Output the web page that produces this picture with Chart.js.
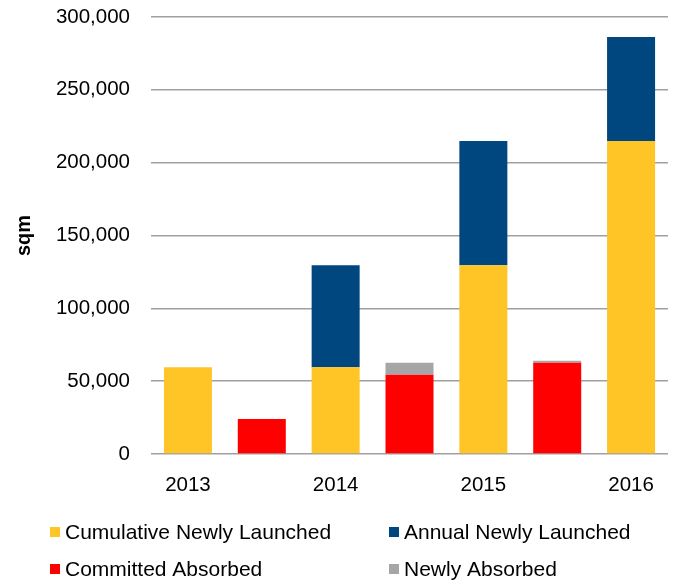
<!DOCTYPE html>
<html>
<head>
<meta charset="utf-8">
<script src="https://cdn.jsdelivr.net/npm/chart.js@4/dist/chart.umd.min.js"></script>
<style>
  html, body { margin: 0; padding: 0; background: #fff; }
  #wrap { width: 676px; height: 582px; position: relative; }
</style>
</head>
<body>
<div id="wrap"><canvas id="chart"></canvas></div>
<script>
// Bar slots: each year followed by the absorption bar between years
const categories = ['2013', '', '2014', '', '2015', '', '2016'];
const cumulativeNewlyLaunched = [59500, null, 59500, null, 129500, null, 214800];
const annualNewlyLaunched     = [null, null, 70000, null, 85300, null, 71400];
const committedAbsorbed       = [null, 24000, null, 54400, null, 62700, null];
const newlyAbsorbed           = [null, null, null, 8300, null, 1300, null];
const yTickValues = [0, 50000, 100000, 150000, 200000, 250000, 300000];

const FONT = '"Liberation Sans", Arial, sans-serif';

// Two-column legend laid out beneath the plot
const gridLegend = {
  id: 'gridLegend',
  afterDraw(chart) {
    const ctx = chart.ctx;
    const cols = [50, 389];
    const rows = [532, 569];
    chart.data.datasets.forEach((ds, i) => {
      const x = cols[i % 2];
      const y = rows[Math.floor(i / 2)];
      ctx.save();
      ctx.fillStyle = ds.backgroundColor;
      ctx.fillRect(x, y - 5, 10, 10);
      ctx.fillStyle = '#000';
      ctx.font = '21px ' + FONT;
      ctx.textBaseline = 'middle';
      ctx.textAlign = 'left';
      ctx.fillText(ds.label, x + 15, y + 1);
      ctx.restore();
    });
  }
};

new Chart(document.getElementById('chart'), {
  type: 'bar',
  data: {
    labels: categories,
    datasets: [
      { label: 'Cumulative Newly Launched', data: cumulativeNewlyLaunched, backgroundColor: '#FFC425' },
      { label: 'Annual Newly Launched',     data: annualNewlyLaunched,     backgroundColor: '#00467F' },
      { label: 'Committed Absorbed',        data: committedAbsorbed,       backgroundColor: '#FF0000' },
      { label: 'Newly Absorbed',            data: newlyAbsorbed,           backgroundColor: '#A6A6A6' }
    ]
  },
  options: {
    responsive: true,
    maintainAspectRatio: false,
    animation: false,
    layout: { padding: { top: 17, right: 8, left: 0, bottom: 0 } },
    datasets: { bar: { categoryPercentage: 1, barPercentage: 0.65 } },
    plugins: {
      legend: { display: false },
      tooltip: { enabled: false }
    },
    scales: {
      x: {
        stacked: true,
        grid: { display: false, drawTicks: false },
        border: { display: false },
        ticks: {
          color: '#000',
          font: { family: FONT, size: 20.5 },
          padding: 19,
          maxRotation: 0,
          autoSkip: false
        },
        afterFit(scale) { scale.height = 128; }
      },
      y: {
        stacked: true,
        min: 0,
        max: 300000,
        afterBuildTicks(scale) { scale.ticks = yTickValues.map(v => ({ value: v })); },
        grid: { color: '#A0A0A0', lineWidth: 1.5, drawTicks: true, tickLength: 18, tickColor: 'rgba(0,0,0,0)' },
        border: { display: false },
        ticks: {
          color: '#000',
          font: { family: FONT, size: 20.5 },
          padding: 3,
          callback: v => v.toLocaleString('en-US')
        },
        title: {
          display: true,
          text: 'sqm',
          color: '#000',
          font: { family: FONT, size: 20, weight: 'bold' },
          padding: { top: 12, bottom: 0 }
        },
        afterFit(scale) { scale.width = 151; }
      }
    }
  },
  plugins: [gridLegend]
});
</script>
</body>
</html>
